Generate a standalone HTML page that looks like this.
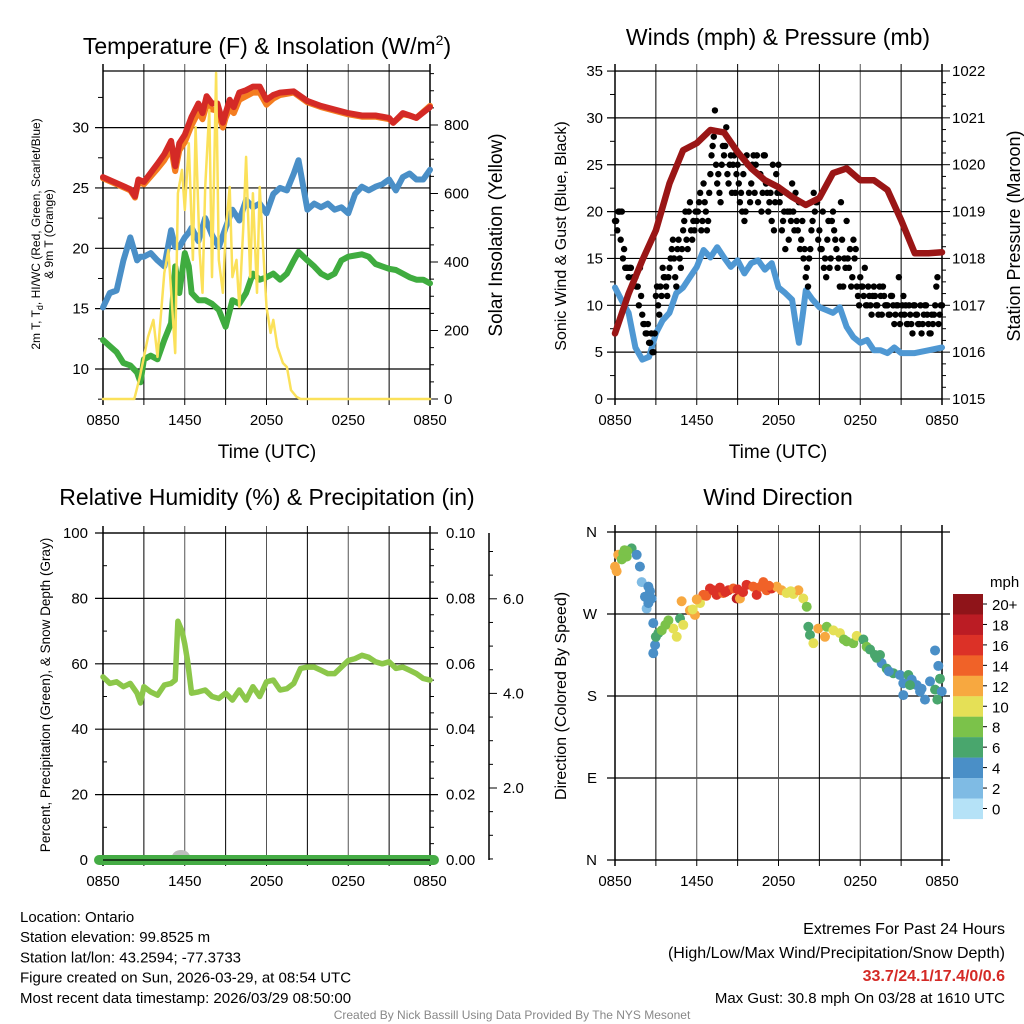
<!DOCTYPE html>
<html><head><meta charset="utf-8"><style>
body{margin:0;background:#fff;}
svg{display:block;font-family:"Liberation Sans",sans-serif;}
</style></head><body>
<svg id="c" width="1024" height="1024" viewBox="0 0 1024 1024"></svg>
<script>
// ---------- DATA ----------
const hrLabels = ["0850","1450","2050","0250","0850"];
// Panel 1: temperature
const tTimes = [0,1,2,2.35,2.6,3,4,4.5,5,5.3,5.6,6,6.5,7,7.3,7.6,8,8.4,8.8,9,9.3,9.6,10,10.5,11,11.5,12,12.5,13,14,15,16,17,18,19,20,21,21.3,22,22.5,23,24];
const tRed   = [25.9,25.4,24.9,24.3,25.7,25.5,27.0,27.8,28.9,26.8,28.7,29.4,30.9,32.0,31.2,32.6,32.0,32.0,30.4,31.2,32.3,31.7,32.9,33.1,33.4,33.4,32.3,32.7,32.9,33.0,32.2,31.8,31.5,31.2,31.0,31.0,30.8,30.4,31.2,31.0,30.8,31.7];
const tOrange= [25.8,25.3,24.8,24.2,25.5,25.3,26.6,27.3,28.3,26.4,28.1,28.8,30.2,31.3,30.7,31.9,31.5,31.4,30.0,30.8,31.6,31.2,32.3,32.6,32.9,32.9,31.9,32.4,32.7,32.9,32.1,31.7,31.4,31.1,30.9,30.9,30.7,30.4,31.1,31.0,30.8,31.8];
const bgTimes = [0,0.5,1,1.5,2,2.5,2.75,3,3.5,4,4.5,5,5.3,5.6,6,6.3,6.5,7,7.5,8,8.5,9,9.5,10,10.5,11,11.5,12,12.5,13,13.5,14,14.35,15,15.5,16,16.5,17,17.5,18,18.5,19,19.5,20,20.5,21,21.5,22,22.5,23,23.5,24];
const tBlue  = [15.1,16.3,16.5,19.0,20.9,19.0,19.3,19.3,19.6,19.0,18.5,21.5,20.1,20.1,20.9,21.3,21.7,20.6,22.5,21.1,20.1,21.7,23.2,22.3,24.0,23.4,23.7,22.9,24.5,25.0,24.8,26.2,27.3,23.2,23.7,23.4,23.7,23.2,23.4,22.9,24.5,25.1,24.8,25.1,25.3,25.7,24.8,25.9,26.2,25.7,25.7,26.5];
const tGreen = [12.4,11.9,11.4,10.5,10.3,9.7,8.9,10.8,11.1,10.8,12.4,13.8,18.5,16.3,19.6,18.5,16.3,15.7,15.7,15.4,14.9,13.5,15.7,15.4,16.3,17.9,17.4,17.6,17.9,17.4,17.9,19.0,19.7,19.0,18.5,17.9,17.6,17.9,19.0,19.3,19.4,19.5,19.3,18.7,18.5,18.3,18.2,17.9,17.6,17.4,17.4,17.1];
const solTimes = [0,2.3,2.7,3.3,3.7,4,4.5,4.8,5.3,5.5,5.8,6,6.3,6.6,6.8,7.1,7.3,7.5,7.8,8,8.3,8.5,8.8,9,9.3,9.5,9.8,10,10.3,10.5,10.8,11,11.3,11.5,11.8,12,12.3,12.5,12.8,13.2,13.5,13.8,14.2,14.5,24];
const solVals  = [0,0,64,181,231,123,368,435,134,601,669,552,747,406,794,426,310,619,844,356,952,406,310,485,619,356,406,269,502,707,356,601,310,619,406,269,193,231,152,105,93,26,6,0,0];
// Panel 2: winds & pressure
const wTimes = [0,0.5,1,1.5,2,2.5,3,3.5,4,4.5,5,5.5,6,6.5,7,7.5,8,8.5,9,9.5,10,10.5,11,11.5,12,12.5,13,13.3,13.5,13.8,14,14.5,15,15.5,16,16.5,17,17.5,18,18.5,19,19.5,20,20.5,21,22,23,24];
const wSonic = [11.9,10.5,9.2,5.5,4.2,4.5,7.0,8.4,9.2,11.3,11.9,13.0,14.1,15.9,15.1,16.2,15.1,14.1,14.8,13.4,14.5,14.8,13.8,14.5,11.9,11.3,10.6,7.7,6.0,9.2,11.6,10.6,9.8,9.5,9.2,9.8,7.7,6.6,6.0,6.3,5.2,5.2,4.9,5.5,4.9,4.9,5.2,5.5];
const gusts = [19,18,20,20,16,14, 13,14,13,13,12,14, 9,8,7,6,7,5, 11,10,12,14,13,11, 14,16,15,12,17,14, 18,20,16,21,17,18, 19,21,18,23,20,19, 24,27,30.8,23,22,25, 26,29,23,26,25,22, 25,21,20,19,26,22, 23,26,25,21,24,22, 26,22,21,19,18,24, 25,22,19,16,20,20, 23,18,19,21,17,15, 13,12,16,19,20,21, 18,16,14,13,19,15, 20,17,14,12,17,15, 19,14,12,17,16,11, 13,12,14,10,11,9, 12,10,9,11,12,10, 10,9,11,8,10,13, 9,11,10,8,9,7, 10,9,8,7,9,10, 8,7,8,10,13,9, 10];
const gustsOffset = [19,20,17,15,14,14, 14,12,13,12,10,11, 8,7,8,6,5,7, 12,9,11,13,12,13, 15,17,13,16,15,16, 19,17,20,18,19,20, 20,22,19,21,18,22, 26,28,25,24,21,27, 27,24,25,22,26,24, 23,22,24,20,25,21, 25,22,26,24,20,26, 23,20,22,25,21,22, 21,18,20,22,17,19, 20,22,18,16,19,16, 14,15,18,22,21,17, 16,20,15,17,14,19, 18,16,15,21,12,14, 15,16,13,15,12,10, 12,11,10,12,10,11, 11,10,12,9,11,10, 9,11,10,9,10,8, 10,9,8,10,8,10, 9,8,10,8,10,9, 7,9,9,12,8,10];
const pTimes = [0,1,2,3,4,5,6,7,8,9,10,11,12,13,14,15,16,17,18,19,20,21,22,23,24];
const pVals = [1016.4,1017.25,1017.96,1018.6,1019.6,1020.31,1020.46,1020.74,1020.69,1020.27,1019.92,1019.67,1019.52,1019.31,1019.14,1019.29,1019.82,1019.92,1019.67,1019.67,1019.46,1018.82,1018.11,1018.11,1018.13];
// Panel 3: RH
const rhTimes=[0,0.5,1,1.5,2,2.5,2.75,3,3.5,4,4.5,5,5.3,5.5,5.8,6,6.2,6.5,7,7.5,8,8.5,9,9.5,10,10.5,11,11.5,12,12.5,13,13.5,14,14.5,15,15.5,16,16.5,17,17.5,18,18.5,19,19.5,20,20.5,21,21.5,22,22.5,23,23.5,24];
const rhVals=[56,54,54.5,53,54,51,48,53,51.4,50.4,53.5,54,55,73,70,66,61,51,51.4,52,50,49.4,51,48.9,52,48.9,53,50,54.5,55,52,52.4,54,58.6,59,59,58,57,57,59,61,61.6,62.6,62,60.6,60,60.6,58.6,59,58,57,55.5,55];
// Panel 4: wind direction
const dTimes=[0.0,0.12,0.24,0.61,0.86,1.22,1.59,0.7,0.5,1.83,1.96,2.45,2.20,2.57,2.69,2.32,2.45,2.81,3.18,2.94,2.81,3.0,3.43,3.92,4.28,4.53,4.77,5.01,4.89,5.50,5.87,5.7,6.24,6.48,6.97,6.7,7.46,7.2,7.95,8.32,8.68,8.93,9.17,9.66,10.15,10.40,10.89,11.13,11.50,11.87,12.23,12.60,13.09,13.46,13.82,14.07,14.19,14.31,14.56,14.92,15.41,15.54,16.03,16.51,17.0,17.49,17.74,18.23,18.47,18.72,19.08,19.45,19.57,19.94,20.43,20.92,21.16,21.53,21.78,22.14,22.39,22.75,23.12,23.49,23.49,23.73,23.85,23.98,23.66,21.16,21.65,7.7,9.0,10.7,8.1,6.0,9.4,11.3,12.9,16.8,19.2,20.1,22.5,0.9,3.7];
const dDirs=[322,317,335,337,333,342,335,340,330,322,305,300,289,295,287,276,282,260,249,236,227,245,252,263,254,245,265,258,284,274,269,275,282,291,298,290,291,296,293,296,298,287,287,302,300,291,305,296,298,300,296,293,292,296,287,278,256,247,238,254,245,256,252,249,240,238,246,242,234,231,225,225,216,210,205,203,194,203,198,192,185,176,196,187,230,213,199,185,176,181,192,299,297,300,294,286,294,301,295,242,222,207,188,339,258];
const dSpeeds=[12,12,12,8,8,6,4,8,8,4,2,4,4,4,4,2,4,4,6,4,4,6,8,8,10,10,6,10,12,12,12,10,10,14,16,14,16,16,14,16,14,18,12,16,14,16,14,14,16,12,12,10,10,12,10,8,6,6,10,12,12,8,10,10,8,8,10,6,8,6,6,6,4,6,6,4,4,6,4,4,4,4,4,6,4,4,6,4,6,4,6,16,16,14,16,12,16,14,10,8,6,4,4,8,8];
const cbLabels=["20+","18","16","14","12","10","8","6","4","2","0"];
const cbColors=["#8f1419","#bb1c24","#dc3127","#f06228","#f7a840","#e5e056","#7bc24a","#49a66d","#4a8fc7","#7fbbe4","#b5e2f7"];

// ---------- DRAW ----------
const NS="http://www.w3.org/2000/svg";
const svg=document.getElementById('c');
function mk(tag,attrs,parent){const e=document.createElementNS(NS,tag);for(const k in attrs)e.setAttribute(k,attrs[k]);(parent||svg).appendChild(e);return e;}
function txt(s,x,y,size,anchor,extra){const e=mk('text',Object.assign({x:x,y:y,'font-size':size,'text-anchor':anchor||'middle',fill:'#000'},extra||{}));e.textContent=s;return e;}
function lin(x1,y1,x2,y2,w,c){return mk('line',{x1:x1,y1:y1,x2:x2,y2:y2,stroke:c||'#000','stroke-width':w||1});}

const L={x0:103,x1:430}, R={x0:615,x1:942};
function xs(P,h){return P.x0+h*(P.x1-P.x0)/24;}

function frame(P,y0,y1,name){
  const g=mk('g',{});
  
  
  for(let i=1;i<8;i++){const x=xs(P,i*3);mk('line',{x1:x,y1:y0-7,x2:x,y2:y1,stroke:i%2?'#000':'#555','stroke-width':1},g);}
  lin(P.x0,y0-7,P.x0,y1+6,1.5);lin(P.x1,y0-7,P.x1,y1+6,1.5);
  lin(P.x0,y0,P.x1,y0,1.3);lin(P.x0,y1,P.x1,y1,1.3);
  for(let i=0;i<=8;i++){lin(xs(P,i*3),y1,xs(P,i*3),y1+6,1);}
  hrLabels.forEach((s,i)=>{const t=txt(s,xs(P,i*6),y1+26,15);});
}
function path(P,times,vals,ys,color,w,name,opacity){
  let d='';times.forEach((t,i)=>{d+=(i?'L':'M')+xs(P,t).toFixed(1)+','+ys(vals[i]).toFixed(1);});
  const p=mk('path',{d:d,fill:'none',stroke:color,'stroke-width':w,'stroke-linejoin':'round','stroke-linecap':'round'});
  if(opacity)p.setAttribute('opacity',opacity);
  
  
  return p;
}

// ===== Panel 1 =====
const y1T=v=>369-(v-10)*12.07;
const y1S=v=>399-v*68.5/200;
{const y0=71,yb=399;
 for(let v=10;v<=30;v+=5){lin(L.x0-8,y1T(v),L.x1,y1T(v),1.2,'#000');txt(String(v),L.x0-14,y1T(v)+5,15,'end');}
 for(let v=7.5;v<=35;v+=2.5){if(v%5)lin(L.x0-5,y1T(v),L.x0,y1T(v),1);}
 frame(L,y0,yb,'temp-panel');
 for(let v=0;v<=950;v+=50){const y=y1S(v);lin(L.x1,y,L.x1+(v%200?4:8),y,1);}
 for(let v=0;v<=800;v+=200){txt(String(v),L.x1+14,y1S(v)+5,15,'start');}
 path(L,tTimes,tOrange,y1T,'#f47d20',6,'temp-9m-line');
 path(L,tTimes,tRed,y1T,'#d42a26',6,'temp-2m-line');
 path(L,bgTimes,tBlue,y1T,'#4a8fc7',6,'windchill-line');
 path(L,bgTimes,tGreen,y1T,'#3fac3f',6,'dewpoint-line');
 path(L,solTimes,solVals,y1S,'#fbe15a',2.5,'insolation-line');
 const t=mk('text',{x:267,y:54,'font-size':23,'text-anchor':'middle'});t.innerHTML='Temperature (F) &amp; Insolation (W/m<tspan dy="-9" font-size="14">2</tspan><tspan dy="9">)</tspan>';
 
 txt('Time (UTC)',267,458,19);
 const a=mk('text',{transform:'translate(40,234) rotate(-90)','font-size':12,'text-anchor':'middle'});
 a.innerHTML='<tspan x="0" dy="0">2m T, T<tspan font-size="9" dy="3">d</tspan><tspan dy="-3">, HI/WC (Red, Green, Scarlet/Blue)</tspan></tspan><tspan x="0" dy="13">&amp; 9m T (Orange)</tspan>';
 
 const b=txt('Solar Insolation (Yellow)',0,0,19,'middle',{transform:'translate(502,235) rotate(-90)'});
 
}

// ===== Panel 2 =====
const y2W=v=>399-v*9.37;
const y2P=v=>399-(v-1015)*46.86;
{const y0=71,yb=399;
 for(let v=0;v<=35;v+=5){lin(R.x0-8,y2W(v),R.x1,y2W(v),1.2);txt(String(v),R.x0-12,y2W(v)+5,15,'end');}
 for(let v=2.5;v<35;v+=5)lin(R.x0-5,y2W(v),R.x0,y2W(v),1);
 frame(R,y0,yb,'wind-panel');
 for(let v=1015;v<=1022.001;v+=0.25){lin(R.x1,y2P(v),R.x1+((v%1)?4:8),y2P(v),1);}
 for(let v=1015;v<=1022;v++)txt(String(v),R.x1+10,y2P(v)+5,15,'start');
 path(R,wTimes,wSonic,y2W,'#4f98d3',6,'sonic-wind-line');
 const gg=mk('g',{});
 gusts.forEach((g,i)=>{const c=mk('circle',{cx:xs(R,i/6),cy:y2W(g),r:3.2,fill:'#000'},gg);
   
   });
 gustsOffset.forEach((g,i)=>{const c=mk('circle',{cx:xs(R,i/6+1/12),cy:y2W(g),r:3.2,fill:'#000'},gg);
   
   });
 path(R,pTimes,pVals,y2P,'#9a1616',6.5,'pressure-line');
 txt('Winds (mph) & Pressure (mb)',778,45,23);
 txt('Time (UTC)',778,458,19);
 txt('Sonic Wind & Gust (Blue, Black)',0,0,16,'middle',{transform:'translate(566,236) rotate(-90)'});
 txt('Station Pressure (Maroon)',0,0,18,'middle',{transform:'translate(1020,236) rotate(-90)'});
}

// ===== Panel 3 =====
const y3=v=>860-v*3.27;
{const y0=533,yb=860;
 for(let v=0;v<=100;v+=20){lin(L.x0-8,y3(v),L.x1+8,y3(v),1.2);txt(String(v),L.x0-15,y3(v)+5,15,'end');txt((v/1000).toFixed(2),L.x1+16,y3(v)+5,15,'start');}
 for(let v=10;v<100;v+=20)lin(L.x0,y3(v),L.x0+4,y3(v),1);
 for(let v=5;v<100;v+=5){if(v%20)lin(L.x1,y3(v),L.x1+4,y3(v),1);}
 frame(L,y0,yb,'rh-panel');
 lin(489,533,489,860,1.5);
 const ys=v=>788-(v-2)*47.3;
 for(let v=0.5;v<=7.1;v+=0.5){const y=ys(v);if(y>=533&&y<=860)lin(489,y,489+(v%2?4:8),y,1);}
 [2,4,6].forEach(v=>txt(v.toFixed(1),503,ys(v)+5,15,'start'));
 path(L,rhTimes,rhVals,y3,'#8cc74a',5.5,'rh-line');
 const s1=mk('ellipse',{cx:181,cy:857,rx:9,ry:7,fill:'#bdbdbd'});
 mk('ellipse',{cx:193,cy:859,rx:6,ry:4,fill:'#c8c8c8'});
 const pl=lin(L.x0-4,860,L.x1+4,860,10,'#45ac45');pl.setAttribute('stroke-linecap','round');
 
 lin(L.x0,860,L.x1,860,1.3);
 txt('Relative Humidity (%) & Precipitation (in)',267,505,23);
 txt('Percent, Precipitation (Green), & Snow Depth (Gray)',0,0,13.5,'middle',{transform:'translate(50,695) rotate(-90)'});
}

// ===== Panel 4 =====
const y4=d=>860-d*328/360;
{const y0=532,yb=860;
 ["N","E","S","W","N"].forEach((s,i)=>{const y=y4(i*90);lin(R.x0-8,y,R.x1+8,y,1.2);txt(s,R.x0-18,y+5,15,'end');});
 frame(R,y0,yb,'direction-panel');
 const g=mk('g',{});
 dTimes.forEach((t,i)=>{const idx=10-Math.min(10,Math.round(dSpeeds[i]/2));
   const c=mk('circle',{cx:xs(R,t),cy:y4(dDirs[i]),r:5,fill:cbColors[idx]},g);
   
   });
 txt('Wind Direction',778,505,23);
 txt('Direction (Colored By Speed)',0,0,16,'middle',{transform:'translate(566,696) rotate(-90)'});
 const cb=mk('g',{});
 cbColors.forEach((c,i)=>{mk('rect',{x:953,y:594+i*20.45,width:30,height:20.6,fill:c},cb);
   lin(983,604+i*20.45,987,604+i*20.45,1);
   txt(cbLabels[i],992,610+i*20.45,15,'start');});
 txt('mph',990,587,15,'start');
}

// ===== Footer =====
const info=["Location: Ontario","Station elevation: 99.8525 m","Station lat/lon: 43.2594; -77.3733","Figure created on Sun, 2026-03-29, at 08:54 UTC","Most recent data timestamp: 2026/03/29 08:50:00"];
info.forEach((s,i)=>{const t=txt(s,20,922+i*20.2,15,'start');});
txt('Extremes For Past 24 Hours',1005,934,16,'end');
txt('(High/Low/Max Wind/Precipitation/Snow Depth)',1005,958,16,'end');
txt('33.7/24.1/17.4/0/0.6',1005,981,16,'end',{fill:'#d42a26','font-weight':'bold'});
txt('Max Gust: 30.8 mph On 03/28 at 1610 UTC',1005,1003,15,'end');
txt('Created By Nick Bassill Using Data Provided By The NYS Mesonet',512,1019,12,'middle',{fill:'#888'});
</script>
</body></html>
